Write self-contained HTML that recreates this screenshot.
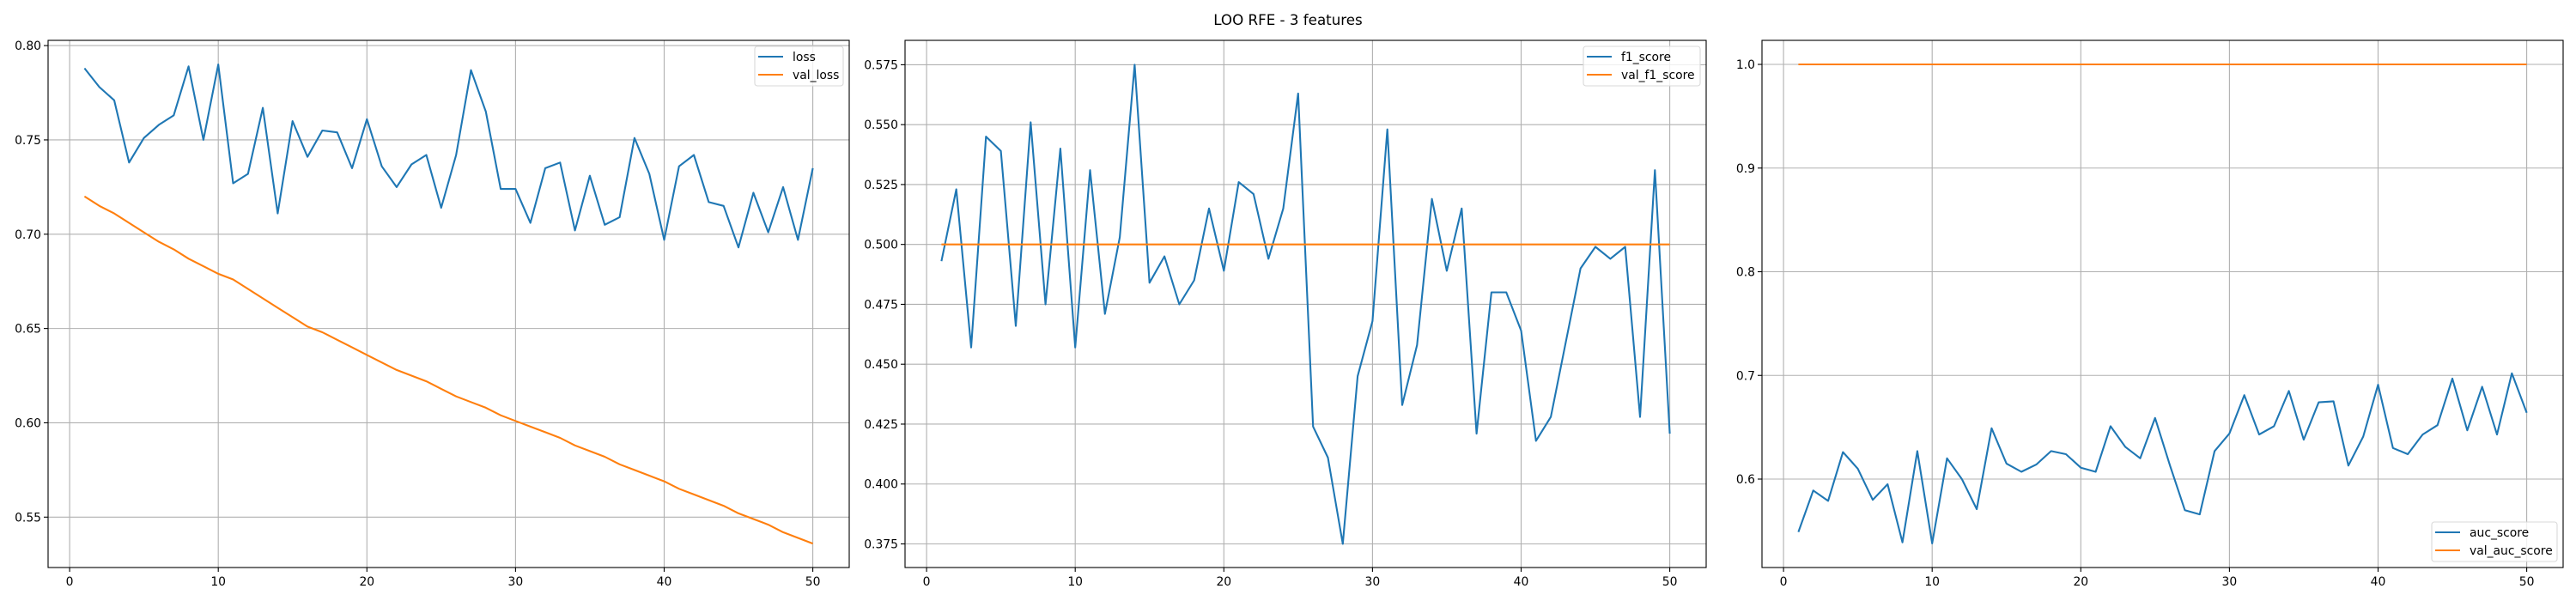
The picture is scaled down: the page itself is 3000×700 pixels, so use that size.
<!DOCTYPE html>
<html><head><meta charset="utf-8"><style>
html,body{margin:0;padding:0;background:#fff;}
svg{display:block;font-family:"DejaVu Sans","Liberation Sans",sans-serif;}
</style></head><body>
<svg id="fig" width="3000" height="700" xmlns="http://www.w3.org/2000/svg">
<rect width="3000" height="700" fill="#fff"/>
<text x="1500" y="29" font-size="16.7" text-anchor="middle">LOO RFE - 3 features</text>
</svg>
<script>
const epochs = Array.from({length:50},(_,i)=>i+1);
const lossValues = [0.788,0.778,0.771,0.738,0.751,0.758,0.763,0.789,0.750,0.790,0.727,0.732,0.767,0.711,0.760,0.741,0.755,0.754,0.735,0.761,0.736,0.725,0.737,0.742,0.714,0.742,0.787,0.765,0.724,0.724,0.706,0.735,0.738,0.702,0.731,0.705,0.709,0.751,0.732,0.697,0.736,0.742,0.717,0.715,0.693,0.722,0.701,0.725,0.697,0.735];
const valLossValues = [0.720,0.715,0.711,0.706,0.701,0.696,0.692,0.687,0.683,0.679,0.676,0.671,0.666,0.661,0.656,0.651,0.648,0.644,0.640,0.636,0.632,0.628,0.625,0.622,0.618,0.614,0.611,0.608,0.604,0.601,0.598,0.595,0.592,0.588,0.585,0.582,0.578,0.575,0.572,0.569,0.565,0.562,0.559,0.556,0.552,0.549,0.546,0.542,0.539,0.536];
const f1Values = [0.493,0.523,0.457,0.545,0.539,0.466,0.551,0.475,0.540,0.457,0.531,0.471,0.503,0.575,0.484,0.495,0.475,0.485,0.515,0.489,0.526,0.521,0.494,0.515,0.563,0.424,0.411,0.375,0.445,0.468,0.548,0.433,0.458,0.519,0.489,0.515,0.421,0.480,0.480,0.464,0.418,0.428,0.459,0.490,0.499,0.494,0.499,0.428,0.531,0.421];
const valF1Values = [0.5,0.5,0.5,0.5,0.5,0.5,0.5,0.5,0.5,0.5,0.5,0.5,0.5,0.5,0.5,0.5,0.5,0.5,0.5,0.5,0.5,0.5,0.5,0.5,0.5,0.5,0.5,0.5,0.5,0.5,0.5,0.5,0.5,0.5,0.5,0.5,0.5,0.5,0.5,0.5,0.5,0.5,0.5,0.5,0.5,0.5,0.5,0.5,0.5,0.5];
const aucValues = [0.549,0.589,0.579,0.626,0.610,0.580,0.595,0.539,0.627,0.538,0.620,0.600,0.571,0.649,0.615,0.607,0.614,0.627,0.624,0.611,0.607,0.651,0.631,0.620,0.659,0.613,0.570,0.566,0.627,0.644,0.681,0.643,0.651,0.685,0.638,0.674,0.675,0.613,0.641,0.691,0.630,0.624,0.643,0.652,0.697,0.647,0.689,0.643,0.702,0.664];
const valAucValues = [1,1,1,1,1,1,1,1,1,1,1,1,1,1,1,1,1,1,1,1,1,1,1,1,1,1,1,1,1,1,1,1,1,1,1,1,1,1,1,1,1,1,1,1,1,1,1,1,1,1];
const xTicks = [0,10,20,30,40,50];
const lossTicks = ["0.55","0.60","0.65","0.70","0.75","0.80"];
const f1Ticks = ["0.375","0.400","0.425","0.450","0.475","0.500","0.525","0.550","0.575"];
const aucTicks = ["0.6","0.7","0.8","0.9","1.0"];

const NS="http://www.w3.org/2000/svg";
const svg=document.getElementById('fig');
function mk(tag,attrs,parent){const e=document.createElementNS(NS,tag);for(const k in attrs)e.setAttribute(k,attrs[k]);(parent||svg).appendChild(e);return e;}

function panel(cfg){
  const L=cfg.left,R=L+933,T=47,B=661;
  const g=mk('g',{});
  
  
  const xmin=-1.45,xmax=52.45;
  const sx=v=>L+(v-xmin)/(xmax-xmin)*(R-L);
  const sy=v=>cfg.y0px+(v-cfg.y0)/(cfg.y1-cfg.y0)*(cfg.y1px-cfg.y0px);
  // grid
  xTicks.forEach(t=>{
    const l=mk('line',{x1:sx(t),x2:sx(t),y1:T,y2:B,stroke:'#b0b0b0','stroke-width':1.1},g);
    
    
    const tk=mk('line',{x1:sx(t),x2:sx(t),y1:B,y2:B+5,stroke:'#000','stroke-width':1.1},g);
    
    
    const tx=mk('text',{x:sx(t),y:B+21,'font-size':13.9,'text-anchor':'middle',fill:'#000'},g);
    tx.textContent=t;
    
    
  });
  cfg.ticks.forEach(s=>{
    const v=parseFloat(s);
    const l=mk('line',{x1:L,x2:R,y1:sy(v),y2:sy(v),stroke:'#b0b0b0','stroke-width':1.1},g);
    
    
    const tk=mk('line',{x1:L-5,x2:L,y1:sy(v),y2:sy(v),stroke:'#000','stroke-width':1.1},g);
    
    
    const tx=mk('text',{x:L-8,y:sy(v)+5,'font-size':13.9,'text-anchor':'end',fill:'#000'},g);
    tx.textContent=s;
    
    
  });
  // series
  const series=[[cfg.a,'#1f77b4',cfg.la],[cfg.b,'#ff7f0e',cfg.lb]];
  series.forEach(([vals,col,lab])=>{
    const d=vals.map((v,i)=>(i?'L':'M')+sx(epochs[i]).toFixed(1)+','+sy(v).toFixed(1)).join(' ');
    const p=mk('path',{d:d,fill:'none',stroke:col,'stroke-width':2.1,'stroke-linejoin':'round'},g);
    
    
  });
  // frame
  const fr=mk('rect',{x:L,y:T,width:R-L,height:B-T,fill:'none',stroke:'#000','stroke-width':1.1},g);
  
  
  // legend
  const lw=cfg.legW,lh=46;
  const lx=R-7-lw, ly=cfg.legBottom?B-7-lh:T+7;
  const lg=mk('g',{},g);
  
  
  mk('rect',{x:lx,y:ly,width:lw,height:lh,rx:3,fill:'#fff','fill-opacity':0.8,stroke:'#d9d9d9','stroke-width':1.1},lg);
  series.forEach(([vals,col,lab],i)=>{
    const yy=ly+12+i*21;
    const ll=mk('line',{x1:lx+4,x2:lx+33,y1:yy,y2:yy,stroke:col,'stroke-width':2.1},lg);
    
    
    const t=mk('text',{x:lx+44,y:yy+5,'font-size':13.9,fill:'#000'},lg);
    t.textContent=lab;
    
    
  });
}
panel({name:'loss',left:56,a:lossValues,b:valLossValues,la:'loss',lb:'val_loss',ticks:lossTicks,y0:0.80,y0px:53.1,y1:0.55,y1px:602.3,legW:103,legBottom:false});
panel({name:'f1',left:1054,a:f1Values,b:valF1Values,la:'f1_score',lb:'val_f1_score',ticks:f1Ticks,y0:0.575,y0px:75.4,y1:0.375,y1px:633.5,legW:136,legBottom:false});
panel({name:'auc',left:2052,a:aucValues,b:valAucValues,la:'auc_score',lb:'val_auc_score',ticks:aucTicks,y0:1.0,y0px:75,y1:0.6,y1px:558,legW:146,legBottom:true});
</script>
</body></html>
